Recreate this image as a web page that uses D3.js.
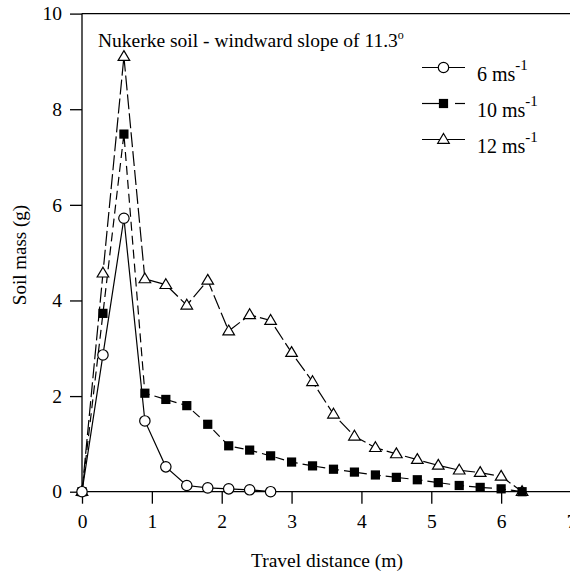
<!DOCTYPE html>
<html>
<head>
<meta charset="utf-8">
<script src="https://cdn.jsdelivr.net/npm/d3@7"></script>
<style>
  html, body { margin: 0; padding: 0; background: #fff; }
  svg { display: block; }
  svg text { font-family: 'Liberation Serif', Tinos, 'Times New Roman', 'DejaVu Serif', serif; fill: #000; }
</style>
</head>
<body>
<svg id="chart" width="570" height="572"></svg>
<script>
// ---- data ----
const distance = [0, 0.3, 0.6, 0.9, 1.2, 1.5, 1.8, 2.1, 2.4, 2.7, 3.0, 3.3, 3.6, 3.9, 4.2, 4.5, 4.8, 5.1, 5.4, 5.7, 6.0, 6.3];
const mass6  = [0, 2.86, 5.72, 1.48, 0.52, 0.13, 0.08, 0.06, 0.04, 0.0];
const mass10 = [0, 3.73, 7.48, 2.06, 1.93, 1.80, 1.41, 0.96, 0.87, 0.75, 0.62, 0.54, 0.47, 0.41, 0.35, 0.30, 0.25, 0.19, 0.13, 0.09, 0.06, 0.0];
const mass12 = [0, 4.57, 9.10, 4.45, 4.33, 3.90, 4.42, 3.36, 3.70, 3.58, 2.91, 2.30, 1.62, 1.16, 0.92, 0.79, 0.67, 0.55, 0.45, 0.40, 0.32, 0.0];
const seriesNames = ["6 ms", "10 ms", "12 ms"];
const xTicks = [0, 1, 2, 3, 4, 5, 6, 7];
const yTicks = [0, 2, 4, 6, 8, 10];
const titleText = "Nukerke soil - windward slope of 11.3";
const xTitle = "Travel distance (m)";
const yTitle = "Soil mass (g)";

const svg = d3.select("#chart");
const x = d3.scaleLinear().domain([0, 7]).range([82, 571]);
const y = d3.scaleLinear().domain([0, 10]).range([491.7, 13.6]);

// axes
const xAxis = d3.axisBottom(x).tickValues(xTicks).tickSize(12).tickPadding(10).tickFormat(d3.format("d"));
const yAxis = d3.axisLeft(y).tickValues(yTicks).tickSize(12).tickPadding(8).tickFormat(d3.format("d"));

const gx = svg.append("g").attr("transform", `translate(0,${y(0)})`).call(xAxis);
const gy = svg.append("g").attr("transform", `translate(${x(0)},0)`).call(yAxis);
[gx, gy].forEach(g => {
  g.attr("font-family", null).attr("font-size", null);
  g.select(".domain").attr("stroke", "#000").attr("stroke-width", 1.3);
  g.selectAll(".tick line").attr("stroke", "#000").attr("stroke-width", 1.3);
  g.selectAll(".tick text").style("font-size", "19.5px").attr("fill", "#000");
});
gx.select(".domain").attr("d", `M${x(0)},0H${x(7)}`);
gy.select(".domain").attr("d", `M0,${y(0)}V${y(10)}`);

// top frame line
svg.append("line").attr("x1", x(0)).attr("x2", x(7)).attr("y1", y(10)).attr("y2", y(10))
  .attr("stroke", "#000").attr("stroke-width", 1.3);

// axis titles
svg.append("text").attr("x", 327).attr("y", 567).attr("text-anchor", "middle")
  .style("font-size", "19.5px").text(xTitle);
svg.append("text").attr("transform", `translate(26,255) rotate(-90)`)
  .attr("text-anchor", "middle").style("font-size", "19px").text(yTitle);

// title
const t = svg.append("text").attr("x", 98).attr("y", 46.5).style("font-size", "19.5px");
t.append("tspan").text(titleText);
t.append("tspan").attr("dy", -8).style("font-size", "12px").text("o");

// series
const line = d3.line().x(d => x(d[0])).y(d => y(d[1]));
const toPts = arr => arr.map((v, i) => [distance[i], v]);

const styles = [
  { data: mass6,  dash: null,   marker: "circle" },
  { data: mass10, dash: "9,5",  marker: "square" },
  { data: mass12, dash: "15,4", marker: "triangle" }
];

function drawMarker(g, type, cx, cy) {
  if (type === "circle") {
    g.append("circle").attr("cx", cx).attr("cy", cy).attr("r", 5.2)
      .attr("fill", "#fff").attr("stroke", "#000").attr("stroke-width", 1.2);
  } else if (type === "square") {
    g.append("rect").attr("x", cx - 4.6).attr("y", cy - 4.6).attr("width", 9.2).attr("height", 9.2)
      .attr("fill", "#000");
  } else {
    g.append("path").attr("d", `M${cx},${cy - 6}L${cx + 5.8},${cy + 3.8}L${cx - 5.8},${cy + 3.8}Z`)
      .attr("fill", "#fff").attr("stroke", "#000").attr("stroke-width", 1.2);
  }
}

const gLines = svg.append("g");
const gMarks = svg.append("g");
styles.slice().reverse().forEach(s => {
  gLines.append("path").datum(toPts(s.data)).attr("d", line)
    .attr("fill", "none").attr("stroke", "#000").attr("stroke-width", 1.2)
    .attr("stroke-dasharray", s.dash);
});
styles.slice().reverse().forEach(s => {
  toPts(s.data).forEach(p => drawMarker(gMarks, s.marker, x(p[0]), y(p[1])));
});

// legend
const legY = [67.5, 103.5, 139.5];
const lg = svg.append("g");
styles.forEach((s, i) => {
  const yy = legY[i];
  if (s.marker === "square") {
    lg.append("line").attr("x1", 422).attr("x2", 439).attr("y1", yy).attr("y2", yy)
      .attr("stroke", "#000").attr("stroke-width", 1.2);
    lg.append("line").attr("x1", 455).attr("x2", 465).attr("y1", yy).attr("y2", yy)
      .attr("stroke", "#000").attr("stroke-width", 1.2);
  } else {
    lg.append("line").attr("x1", 422).attr("x2", 465).attr("y1", yy).attr("y2", yy)
      .attr("stroke", "#000").attr("stroke-width", 1.2);
  }
  drawMarker(lg, s.marker, 443.5, yy);
  const tx = lg.append("text").attr("x", 477).attr("y", yy + 13).style("font-size", "20px");
  tx.append("tspan").text(seriesNames[i]);
  tx.append("tspan").attr("dy", -11).style("font-size", "15px").text("-1");
});
</script>
</body>
</html>
